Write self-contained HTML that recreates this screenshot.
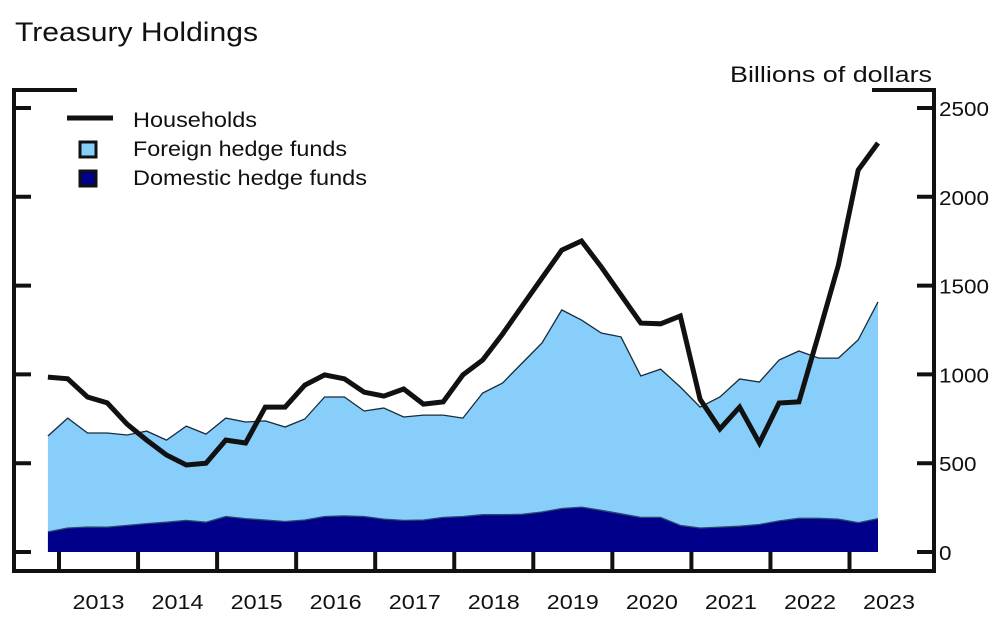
<!DOCTYPE html>
<html><head><meta charset="utf-8"><style>
html,body{margin:0;padding:0;background:#fff;}
svg{display:block;font-family:"Liberation Sans",Arial,sans-serif;}
</style></head><body>
<svg id="chart" width="1000" height="620" viewBox="0 0 1000 620" xmlns="http://www.w3.org/2000/svg">
<text x="15" y="41" font-size="27" fill="#111" textLength="243" lengthAdjust="spacingAndGlyphs">Treasury Holdings</text>
<text x="730" y="82" font-size="22" fill="#111" textLength="202" lengthAdjust="spacingAndGlyphs">Billions of dollars</text>
<g id="areas"></g>
<g id="lines"></g>
<g id="axes" stroke="#111" stroke-width="4" fill="none">
<path d="M77 90 H14 V571 H934 V90 H872"/>
</g>
<g id="ticks"></g>
<g>
<line x1="67" y1="118" x2="113" y2="118" stroke="#111" stroke-width="5"/>
<text x="133" y="127" font-size="21" fill="#111" textLength="124" lengthAdjust="spacingAndGlyphs">Households</text>
<rect x="80" y="142" width="16" height="15" fill="#87cefa" stroke="#111" stroke-width="3"/>
<text x="133" y="156" font-size="21" fill="#111" textLength="214" lengthAdjust="spacingAndGlyphs">Foreign hedge funds</text>
<rect x="80" y="171" width="16" height="15" fill="#00008b" stroke="#111" stroke-width="3"/>
<text x="133" y="185" font-size="21" fill="#111" textLength="234" lengthAdjust="spacingAndGlyphs">Domestic hedge funds</text>
</g>
</svg>
<script>
const years = ["2013","2014","2015","2016","2017","2018","2019","2020","2021","2022","2023"];
const yTicks = [0,500,1000,1500,2000,2500];
const households = [985,975,873,840,720,630,546,490,500,630,614,816,816,940,997,975,900,878,918,833,845,997,1081,1227,1385,1543,1700,1751,1605,1447,1289,1285,1329,860,693,816,614,839,845,1227,1616,2151,2303];
const domestic = [113,135,141,140,150,160,168,178,168,200,188,180,172,180,200,203,200,185,178,180,195,200,210,210,212,225,245,253,235,215,195,195,150,135,140,145,155,175,190,190,185,165,188];
const foreign = [540,619,529,530,509,521,462,531,496,554,544,558,532,569,673,670,594,626,582,591,576,554,685,741,852,952,1118,1053,998,996,796,835,779,681,733,829,802,906,942,902,907,1029,1220];
const startT = 2012.86, stepT = 0.25;

const NS = "http://www.w3.org/2000/svg";
function X(t){ return 59 + (t - 2013) * 79.05; }
function Y(v){ return 552 - v * 0.1776; }
function tOf(i){ return startT + i * stepT; }

const areas = document.getElementById('areas');
const lines = document.getElementById('lines');
const ticks = document.getElementById('ticks');

function mk(tag, attrs, parent){
  const e = document.createElementNS(NS, tag);
  for (const k in attrs) e.setAttribute(k, attrs[k]);
  parent.appendChild(e);
  return e;
}

const totals = foreign.map((f,i) => f + domestic[i]);
function areaPath(top, base){
  let d = "";
  top.forEach((v,i)=>{ d += (i? "L":"M") + X(tOf(i)).toFixed(1) + " " + Y(v).toFixed(1); });
  for (let i = base.length-1; i >= 0; i--) d += "L" + X(tOf(i)).toFixed(1) + " " + Y(base[i]).toFixed(1);
  return d + "Z";
}
function linePath(arr){
  let d = "";
  arr.forEach((v,i)=>{ d += (i? "L":"M") + X(tOf(i)).toFixed(1) + " " + Y(v).toFixed(1); });
  return d;
}
const zeros = domestic.map(()=>0);

const fa = mk('path', {d: areaPath(totals, domestic), fill:'#87cefa', stroke:'none'}, areas);


const da = mk('path', {d: areaPath(domestic, zeros), fill:'#00008b', stroke:'none'}, areas);


const fe = mk('path', {d: linePath(totals), fill:'none', stroke:'#1a2a3a', 'stroke-width':1.3}, areas);


const de = mk('path', {d: linePath(domestic), fill:'none', stroke:'#2a4a6a', 'stroke-width':1.3}, areas);



const hl = mk('path', {d: linePath(households), fill:'none', stroke:'#111', 'stroke-width':5, 'stroke-linejoin':'miter'}, lines);



yTicks.forEach(v=>{
  const y = Y(v);
  const l1 = mk('line', {x1:14, x2:31, y1:y, y2:y, stroke:'#111', 'stroke-width':4}, ticks);
  
  
  const l2 = mk('line', {x1:917, x2:934, y1:y, y2:y, stroke:'#111', 'stroke-width':4}, ticks);
  
  
  const s = String(v);
  const t = mk('text', {x:939, y:y+8, 'font-size':20, fill:'#111', textLength: s.length*12.5, lengthAdjust:'spacingAndGlyphs'}, ticks);
  t.textContent = s;
  
  
});
years.forEach(yr=>{
  const x = X(+yr);
  const l = mk('line', {x1:x, x2:x, y1:552, y2:571, stroke:'#111', 'stroke-width':4}, ticks);
  
  
  const t = mk('text', {x:X(+yr + 0.5) - 26, y:609, 'font-size':20, fill:'#111', textLength:52, lengthAdjust:'spacingAndGlyphs'}, ticks);
  t.textContent = yr;
  
  
});
</script>
</body></html>
